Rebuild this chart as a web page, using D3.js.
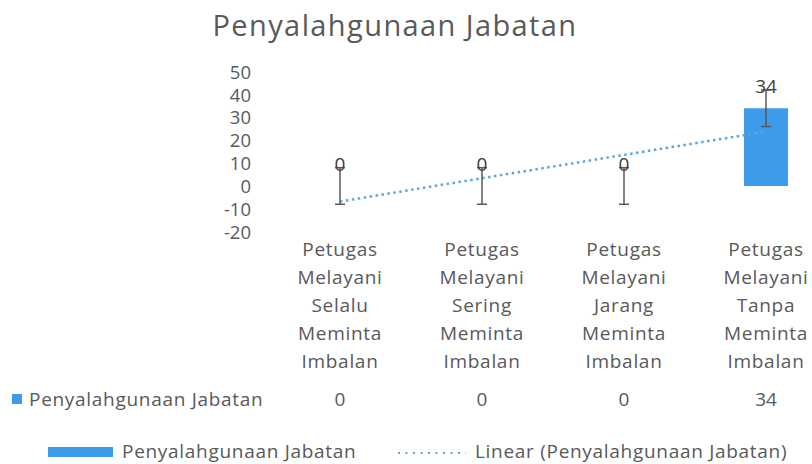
<!DOCTYPE html>
<html><head><meta charset="utf-8">
<script src="https://cdn.jsdelivr.net/npm/d3@7"></script>
<style>body{margin:0;background:#fff}svg{display:block}text{font-family:"Open Sans",sans-serif;fill:#595959}</style>
</head><body>
<script>
const title = "Penyalahgunaan Jabatan";
const categories = [
  ["Petugas","Melayani","Selalu","Meminta","Imbalan"],
  ["Petugas","Melayani","Sering","Meminta","Imbalan"],
  ["Petugas","Melayani","Jarang","Meminta","Imbalan"],
  ["Petugas","Melayani","Tanpa","Meminta","Imbalan"]
];
const seriesName = "Penyalahgunaan Jabatan";
const values = [0, 0, 0, 34];
const errors = [8, 8, 8, 8];
const yTicks = [50, 40, 30, 20, 10, 0, -10, -20];
const trendName = "Linear (Penyalahgunaan Jabatan)";

const W = 812, H = 464;
const svg = d3.select("body").append("svg").attr("width", W).attr("height", H);
const blue = "#3d9be9";
const FS = "19px", LS = "0.7px";

const x = d3.scaleBand().domain(d3.range(categories.length)).range([269, 837]).paddingInner(0.69).paddingOuter(0.345);
const y = d3.scaleLinear().domain([-20, 50]).range([231.7, 71.7]);

// title
svg.append("text").attr("x", 395).attr("y", 36).attr("text-anchor", "middle")
  .style("font-size", "29px").style("letter-spacing", "1.4px").text(title);

// y axis labels
const yAxis = d3.axisLeft(y).tickValues(yTicks).tickSize(0).tickPadding(0).tickFormat(d => String(d));
const ga = svg.append("g").attr("transform", "translate(251,0)").call(yAxis);
ga.select(".domain").remove();
ga.selectAll("text").style("font-size", "18.5px").style("fill", "#595959")
  .style("font-family", "'Open Sans',sans-serif").attr("dy", "0.35em");

// trendline (linear regression)
const xs = values.map((d, i) => i + 1);
const mx = d3.mean(xs), my = d3.mean(values);
const slope = d3.sum(xs, (xv, i) => (xv - mx) * (values[i] - my)) / d3.sum(xs, xv => (xv - mx) ** 2);
const icpt = my - slope * mx;
const cx = i => x(i) + x.bandwidth() / 2;

// bars
svg.selectAll("rect.bar").data(values).join("rect").attr("class", "bar")
  .attr("x", (d, i) => x(i)).attr("width", x.bandwidth())
  .attr("y", d => y(Math.max(0, d))).attr("height", d => Math.abs(y(d) - y(0)))
  .attr("fill", blue);

svg.append("line")
  .attr("x1", cx(0)).attr("y1", y(slope * 1 + icpt))
  .attr("x2", cx(values.length - 1)).attr("y2", y(slope * values.length + icpt))
  .attr("stroke", "#5aa7e0").attr("stroke-width", 2.5).attr("stroke-dasharray", "2.5,3.5");

// error bars
const eb = svg.selectAll("g.err").data(values).join("g").attr("class", "err");
eb.append("line").attr("x1", (d, i) => cx(i)).attr("x2", (d, i) => cx(i))
  .attr("y1", (d, i) => y(d + errors[i])).attr("y2", (d, i) => y(d - errors[i]))
  .attr("stroke", "#595959").attr("stroke-width", 1.5);
eb.append("line").attr("x1", (d, i) => cx(i) - 5).attr("x2", (d, i) => cx(i) + 5)
  .attr("y1", (d, i) => y(d + errors[i])).attr("y2", (d, i) => y(d + errors[i]))
  .attr("stroke", "#595959").attr("stroke-width", 1.5);
eb.append("line").attr("x1", (d, i) => cx(i) - 5).attr("x2", (d, i) => cx(i) + 5)
  .attr("y1", (d, i) => y(d - errors[i])).attr("y2", (d, i) => y(d - errors[i]))
  .attr("stroke", "#595959").attr("stroke-width", 1.5);

// data labels
svg.selectAll("text.lbl").data(values).join("text").attr("class", "lbl")
  .attr("x", (d, i) => cx(i)).attr("y", (d, i) => y(d + errors[i]) + 3)
  .attr("text-anchor", "middle").style("font-size", FS).style("fill", "#404040").text(d => d);

// category labels
categories.forEach((lines, i) => {
  const t = svg.append("text").attr("text-anchor", "middle").style("font-size", FS).style("letter-spacing", LS);
  lines.forEach((ln, j) => t.append("tspan").attr("x", cx(i)).attr("y", 256 + j * 28).text(ln));
});

// data table row
svg.append("rect").attr("x", 12).attr("y", 394).attr("width", 10).attr("height", 10).attr("fill", blue);
svg.append("text").attr("x", 29).attr("y", 406).style("font-size", FS).style("letter-spacing", LS).text(seriesName);
svg.selectAll("text.tv").data(values).join("text").attr("class", "tv")
  .attr("x", (d, i) => cx(i)).attr("y", 406).attr("text-anchor", "middle")
  .style("font-size", FS).text(d => d);

// legend
svg.append("rect").attr("x", 48).attr("y", 447).attr("width", 65).attr("height", 10).attr("fill", blue);
svg.append("text").attr("x", 122).attr("y", 458).style("font-size", FS).style("letter-spacing", LS).text(seriesName);
svg.append("line").attr("x1", 398).attr("x2", 466).attr("y1", 453).attr("y2", 453)
  .attr("stroke", "#5aa7e0").attr("stroke-width", 2).attr("stroke-dasharray", "2,5.5");
svg.append("text").attr("x", 475).attr("y", 458).style("font-size", FS).style("letter-spacing", LS).text(trendName);
</script>
</body></html>
